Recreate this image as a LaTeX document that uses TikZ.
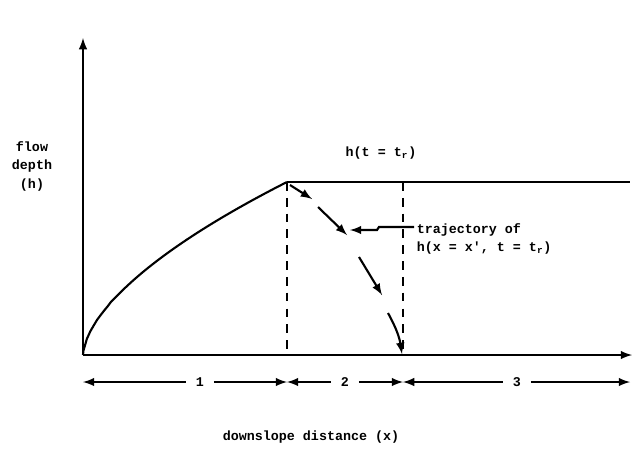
\documentclass[tikz,border=0pt]{standalone}
\usepackage{fontspec}
\setmonofont{Liberation Mono}
\begin{document}
\begin{tikzpicture}[>=latex, x=0.02cm, y=-0.02cm, line width=1.2pt]
	\tikzset{
		lbl/.style={font=\ttfamily\bfseries\fontsize{7.6}{10.5}\selectfont, inner sep=1pt},
		guide/.style={dash pattern=on 5pt off 4pt},
	}
	\useasboundingbox (0,0) rectangle (632,451);
	\coordinate (O) at (83,355);
	\coordinate (ytop) at (83,38);
	\coordinate (xend) at (632,355);
	\coordinate (peak) at (287,182);
	\coordinate (hend) at (630,182);
	\coordinate (xr) at (403,355);
	% axes
	\draw[->] (O) -- (ytop);
	\draw[->] (O) -- (xend);
	% rising limb and plateau
	\draw (O) -- plot[domain=0.002:1, samples=60] ({83+204*\x}, {355-173*\x^0.6});
	\draw (peak) -- (hend);
	\draw[guide] (peak) -- (peak |- O);
	\draw[guide] (xr |- peak) -- (xr);
	% trajectory
	\draw[->] (290,185) -- (312,199);
	\draw[->] (318,207) -- (347,235);
	\draw[->] (359,257) -- (382,295);
	\draw[->] (388,313) to[bend left=10] (402,354);
	% labels
	\node[lbl, align=center] (flowlbl) at (32,166) {flow\\depth\\(h)};
	\node[lbl] (ttrlbl) at (381,153) {h(t = t\textsubscript{r})};
	\node[lbl, align=left, anchor=west] (trajlbl) at (414,239) {trajectory of\\h(x = x', t = t\textsubscript{r})};
	\coordinate (lead) at (414,227);
	\draw[->] (lead) -- (379,227) -- (377,230) -- (350,230);
	\foreach \a/\m/\b/\n in {83/200/287/1, 287/345/403/2, 403/517/630/3}{
		\node[lbl, inner sep=5pt] (d\n) at (\m,382) {\n};
		\draw[<-] (\a,382) -- (d\n);
		\draw[->] (d\n) -- (\b,382);
	}
	\node[lbl] (xlbl) at (311,437) {downslope distance (x)};
\end{tikzpicture}
\end{document}
